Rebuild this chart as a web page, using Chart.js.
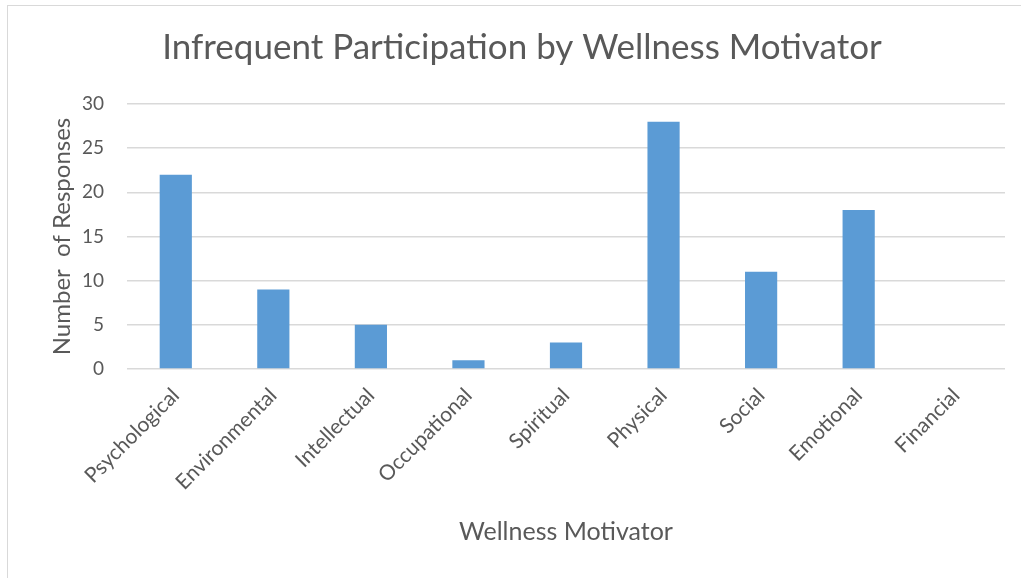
<!DOCTYPE html>
<html>
<head>
<meta charset="utf-8">
<script src="https://cdn.jsdelivr.net/npm/chart.js@4"></script>
<style>
  html, body { margin: 0; padding: 0; background: #fff; }
  body { width: 1021px; height: 578px; position: relative; overflow: hidden; }
  .frame { position: absolute; left: 7px; top: 5px; width: 1100px; height: 700px; border-left: 1px solid #d9d9d9; border-top: 1px solid #d9d9d9; }
  .wrap { position: absolute; left: 0; top: 0; width: 1021px; height: 578px; }
</style>
</head>
<body>
<div class="frame"></div>
<div class="wrap"><canvas id="chart"></canvas></div>
<script>
// 数据
const motivators = ['Psychological', 'Environmental', 'Intellectual', 'Occupational', 'Spiritual', 'Physical', 'Social', 'Emotional', 'Financial'];
const responses = [22, 9, 5, 1, 3, 28, 11, 18, 0];
const yTicks = [0, 5, 10, 15, 20, 25, 30];

const textColor = '#595959';
const fontFamily = 'Lato, "Open Sans", sans-serif';

document.addEventListener('DOMContentLoaded', () => {
    const ctx = document.getElementById('chart').getContext('2d');
    new Chart(ctx, {
        type: 'bar',
        data: {
            labels: motivators,
            datasets: [{
                label: 'Number of Responses',
                data: responses,
                backgroundColor: '#5b9bd5',
                borderWidth: 0,
                categoryPercentage: 1,
                barPercentage: 0.33
            }]
        },
        options: {
            responsive: true,
            maintainAspectRatio: false,
            animation: false,
            layout: { padding: { left: 39, right: 16, top: 0, bottom: 0 } },
            plugins: {
                legend: { display: false },
                tooltip: { enabled: false },
                title: {
                    display: true,
                    text: 'Infrequent Participation by Wellness Motivator',
                    color: textColor,
                    font: { family: fontFamily, size: 35, weight: 'normal' },
                    padding: { top: 27, bottom: 35 }
                }
            },
            scales: {
                x: {
                    grid: { display: false, drawTicks: false },
                    border: { display: false },
                    ticks: {
                        color: textColor,
                        font: { family: fontFamily, size: 21 },
                        minRotation: 45,
                        maxRotation: 45,
                        padding: 14
                    },
                    title: {
                        display: true,
                        text: 'Wellness Motivator',
                        color: textColor,
                        font: { family: fontFamily, size: 25 },
                        padding: { top: 0, bottom: 31 }
                    },
                    afterFit: scale => { scale.height = 209; }
                },
                y: {
                    min: 0,
                    max: 30,
                    afterBuildTicks: scale => { scale.ticks = yTicks.map(v => ({ value: v })); },
                    grid: { color: '#d9d9d9', lineWidth: 1.5, drawTicks: false },
                    border: { display: false },
                    ticks: {
                        color: textColor,
                        font: { family: fontFamily, size: 19 },
                        padding: 23
                    },
                    title: {
                        display: true,
                        text: 'Number  of Responses',
                        color: textColor,
                        font: { family: fontFamily, size: 24 },
                        padding: { top: 9, bottom: 0 }
                    },
                    afterFit: scale => { scale.width = 88; }
                }
            }
        }
    });
});
</script>
</body>
</html>
